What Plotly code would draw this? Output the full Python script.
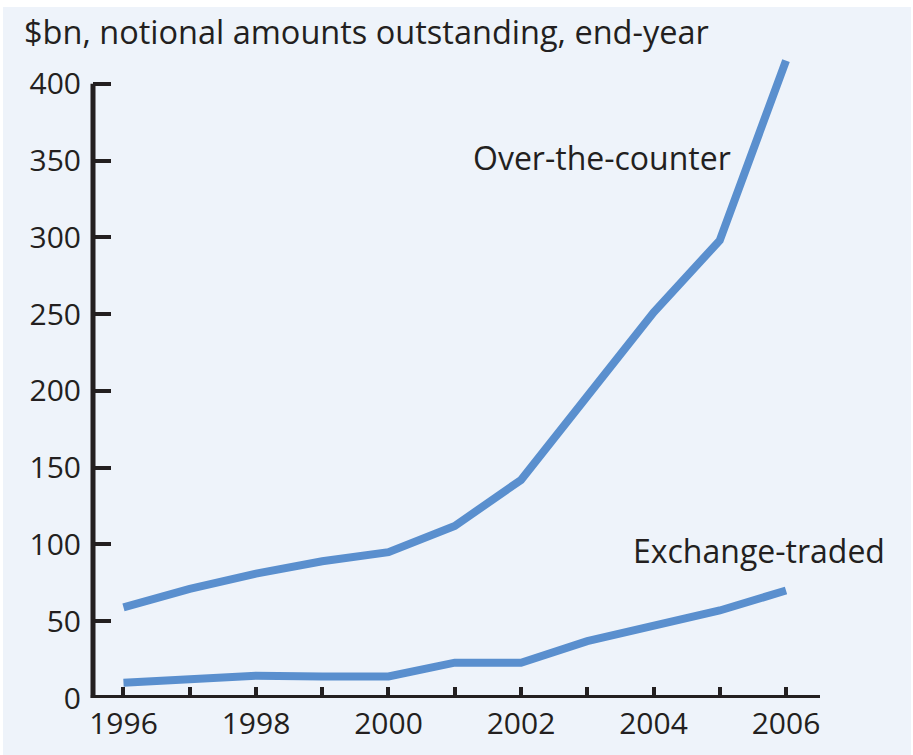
import plotly.graph_objects as go

# Notional amounts outstanding at end-year, $bn
years = [1996, 1997, 1998, 1999, 2000, 2001, 2002, 2003, 2004, 2005, 2006]
over_the_counter = [59, 71, 81, 89, 95, 112, 142, 197, 251, 298, 415]
exchange_traded = [10, 12, 14.5, 14, 14, 23, 23, 37, 46.5, 57, 70]

y_ticks = [0, 50, 100, 150, 200, 250, 300, 350, 400]
x_labels = ["1996", "", "1998", "", "2000", "", "2002", "", "2004", "", "2006"]

line_color = "#5a8fce"
ink = "#231f20"
panel = "#eef3fa"
font_family = "'Open Sans', Lato, sans-serif"

fig = go.Figure()
for name, vals in [("Over-the-counter", over_the_counter), ("Exchange-traded", exchange_traded)]:
    fig.add_trace(go.Scatter(
        x=years, y=vals, mode="lines", name=name,
        line=dict(color=line_color, width=8),
        hoverinfo="x+y", showlegend=False,
    ))

fig.update_layout(
    width=913, height=755,
    margin=dict(l=93, r=93, t=53, b=57),
    paper_bgcolor="white",
    plot_bgcolor="rgba(0,0,0,0)",
    font=dict(family=font_family, size=30, color=ink),
    xaxis=dict(
        range=[1995.54, 2006.513],
        tickvals=years, ticktext=x_labels,
        ticks="inside", ticklen=11, tickwidth=4, tickcolor=ink,
        showline=False, showgrid=False, zeroline=False,
        tickfont=dict(size=30, color=ink),
        ticklabelstandoff=5,
    ),
    yaxis=dict(
        range=[0, 420],
        tickvals=y_ticks,
        ticks="inside", ticklen=18, tickwidth=4, tickcolor=ink,
        showline=False, showgrid=False, zeroline=False,
        tickfont=dict(size=30, color=ink),
        ticklabelstandoff=11,
    ),
    shapes=[
        # panel background with a thin white edge
        dict(type="rect", xref="paper", yref="paper",
             x0=(3 - 93) / 727, x1=(911 - 93) / 727,
             y0=(698 - 755) / 645, y1=(698 - 7) / 645,
             fillcolor=panel, line=dict(width=0), layer="below"),
        # axis lines
        dict(type="line", xref="paper", yref="y", x0=0, x1=0, y0=0, y1=400,
             line=dict(color=ink, width=5), layer="above"),
        dict(type="line", xref="paper", yref="y", x0=-0.003, x1=1, y0=0, y1=0,
             line=dict(color=ink, width=6), layer="above"),
    ],
    annotations=[
        dict(text="$bn, notional amounts outstanding, end-year",
             xref="paper", yref="paper", x=(22 - 93) / 727, y=(698 - 32) / 645,
             xanchor="left", yanchor="middle", showarrow=False,
             font=dict(size=32.5, color=ink)),
        dict(text="Over-the-counter", xref="x", yref="y", x=2003.23, y=352,
             xanchor="center", yanchor="middle", showarrow=False,
             font=dict(size=32, color=ink)),
        dict(text="Exchange-traded", xref="x", yref="y", x=2005.59, y=96,
             xanchor="center", yanchor="middle", showarrow=False,
             font=dict(size=32, color=ink)),
    ],
)

fig.write_html("out.html")
